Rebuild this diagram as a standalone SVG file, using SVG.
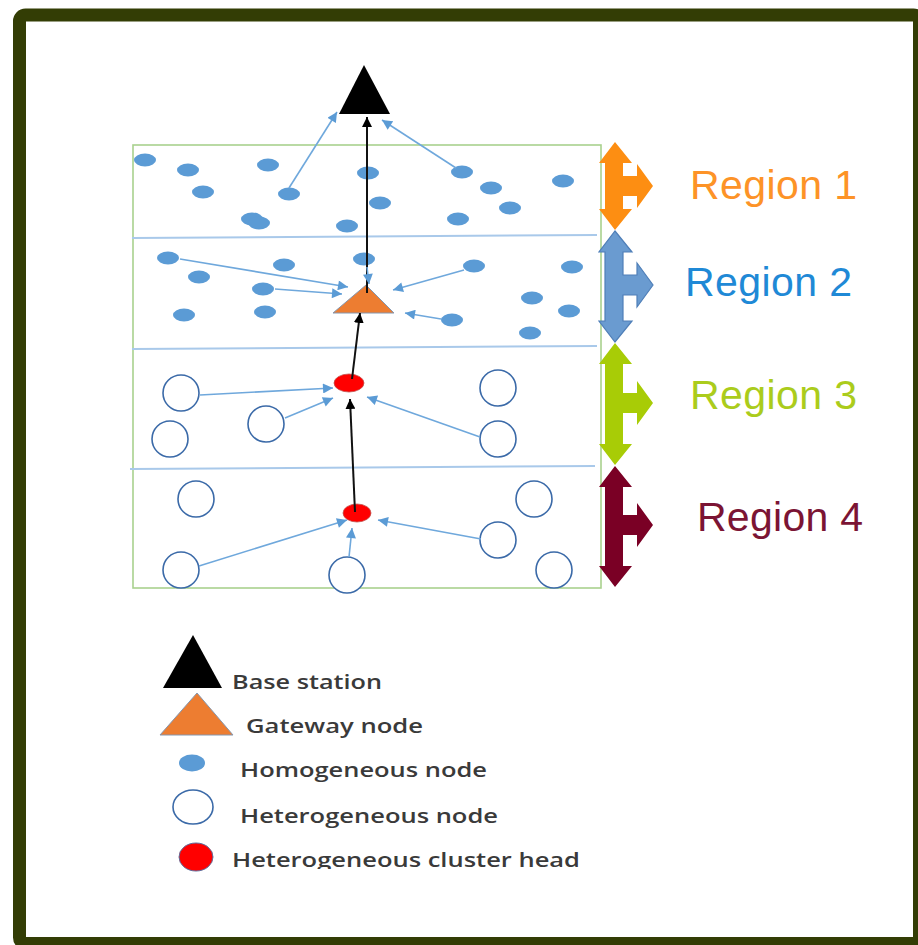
<svg xmlns="http://www.w3.org/2000/svg" width="918" height="945" viewBox="0 0 918 945">
<style>
.hom{fill:#5b9bd5;}
.het{fill:#fff;stroke:#3b6aa8;stroke-width:1.6;}
.ch{fill:#ff0000;stroke:#c0504d;stroke-width:0.8;}
.blue{stroke:#6fa8dc;stroke-width:1.6;fill:none;marker-end:url(#bh);}
.blk{stroke:#111;stroke-width:2;fill:none;marker-end:url(#kh);}
.div{stroke:#a9c9ea;stroke-width:2;fill:none;}
.rl{font-family:"Liberation Sans",Arial,sans-serif;font-size:41px;}
.lg{font-family:"Open Sans","DejaVu Sans",sans-serif;font-size:19px;fill:#3a3a3a;font-weight:600;}
</style>
<defs>
<marker id="bh" viewBox="0 0 10 10" refX="10" refY="5" markerWidth="12" markerHeight="10" markerUnits="userSpaceOnUse" orient="auto"><path d="M0,0 L10,5 L0,10 Z" fill="#5b9bd5"/></marker>
<marker id="kh" viewBox="0 0 10 10" refX="10" refY="5" markerWidth="10" markerHeight="10" markerUnits="userSpaceOnUse" orient="auto"><path d="M0,0 L10,5 L0,10 Z" fill="#000"/></marker>
<clipPath id="clipLast"><rect x="0" y="840" width="918" height="29"/></clipPath>
</defs>
<rect x="0" y="0" width="918" height="945" fill="#fff"/>
<rect id="frame" x="19.5" y="15" width="900" height="928.5" rx="6" fill="#fff" stroke="#333d05" stroke-width="13"/>

<g id="field">
<rect x="133" y="145" width="468" height="443" fill="none" stroke="#a9d18e" stroke-width="1.6"/>
<path class="div" d="M132,238 L597,235"/>
<path class="div" d="M132,349 L597,346"/>
<path class="div" d="M130,469 L595,466"/>
</g>

<g id="base-station"><polygon points="364,65 390,114 339,114" fill="#000"/></g>
<g id="gateway"><polygon points="366,285 394,313 333,313" fill="#ed7d31" stroke="#8497b0" stroke-width="1"/></g>

<g id="homogeneous-nodes">
<ellipse class="hom" cx="145" cy="160" rx="11" ry="6.5"/>
<ellipse class="hom" cx="188" cy="170" rx="11" ry="6.5"/>
<ellipse class="hom" cx="268" cy="165" rx="11" ry="6.5"/>
<ellipse class="hom" cx="368" cy="173" rx="11" ry="6.5"/>
<ellipse class="hom" cx="462" cy="172" rx="11" ry="6.5"/>
<ellipse class="hom" cx="491" cy="188" rx="11" ry="6.5"/>
<ellipse class="hom" cx="563" cy="181" rx="11" ry="6.5"/>
<ellipse class="hom" cx="203" cy="192" rx="11" ry="6.5"/>
<ellipse class="hom" cx="289" cy="194" rx="11" ry="6.5"/>
<ellipse class="hom" cx="380" cy="203" rx="11" ry="6.5"/>
<ellipse class="hom" cx="510" cy="208" rx="11" ry="6.5"/>
<ellipse class="hom" cx="252" cy="219" rx="11" ry="6.5"/>
<ellipse class="hom" cx="259" cy="223" rx="11" ry="6.5"/>
<ellipse class="hom" cx="347" cy="226" rx="11" ry="6.5"/>
<ellipse class="hom" cx="458" cy="219" rx="11" ry="6.5"/>
<ellipse class="hom" cx="168" cy="258" rx="11" ry="6.5"/>
<ellipse class="hom" cx="284" cy="265" rx="11" ry="6.5"/>
<ellipse class="hom" cx="364" cy="259" rx="11" ry="6.5"/>
<ellipse class="hom" cx="474" cy="266" rx="11" ry="6.5"/>
<ellipse class="hom" cx="572" cy="267" rx="11" ry="6.5"/>
<ellipse class="hom" cx="199" cy="277" rx="11" ry="6.5"/>
<ellipse class="hom" cx="263" cy="289" rx="11" ry="6.5"/>
<ellipse class="hom" cx="532" cy="298" rx="11" ry="6.5"/>
<ellipse class="hom" cx="184" cy="315" rx="11" ry="6.5"/>
<ellipse class="hom" cx="265" cy="312" rx="11" ry="6.5"/>
<ellipse class="hom" cx="569" cy="311" rx="11" ry="6.5"/>
<ellipse class="hom" cx="452" cy="320" rx="11" ry="6.5"/>
<ellipse class="hom" cx="530" cy="333" rx="11" ry="6.5"/>
</g>

<g id="heterogeneous-nodes">
<circle class="het" cx="181" cy="393" r="18"/>
<circle class="het" cx="266" cy="424" r="18"/>
<circle class="het" cx="170" cy="439" r="18"/>
<circle class="het" cx="498" cy="388" r="18"/>
<circle class="het" cx="498" cy="439" r="18"/>
<circle class="het" cx="196" cy="499" r="18"/>
<circle class="het" cx="534" cy="499" r="18"/>
<circle class="het" cx="498" cy="540" r="18"/>
<circle class="het" cx="181" cy="570" r="18"/>
<circle class="het" cx="347" cy="575" r="18"/>
<circle class="het" cx="554" cy="570" r="18"/>
</g>

<g id="cluster-head-1"><ellipse class="ch" cx="349" cy="383" rx="15" ry="9"/></g>
<g id="cluster-head-2"><ellipse class="ch" cx="357" cy="513" rx="14" ry="9"/></g>

<g id="connectors">
<path class="blue" d="M289,188 L337,112"/>
<path class="blue" d="M456,168 L382,120"/>
<path class="blk" d="M367,293 L367,117"/>
<path class="blue" d="M180,259 L348,287"/>
<path class="blue" d="M275,289 L342,294"/>
<path class="blue" d="M367,267 L369,284"/>
<path class="blue" d="M464,270 L393,290"/>
<path class="blue" d="M441,319 L405,313"/>
<path class="blk" d="M352,379 L360,313"/>
<path class="blue" d="M200,395 L333,388"/>
<path class="blue" d="M285,418 L333,398"/>
<path class="blue" d="M480,437 L367,397"/>
<path class="blk" d="M355,512 L350,399"/>
<path class="blue" d="M199,566 L347,520"/>
<path class="blue" d="M349,557 L352,528"/>
<path class="blue" d="M481,539 L378,520"/>
</g>

<g id="region-1">
<path d="M615,142 L632,163 L623,163 L623,176 L637,176 L637,164 L653,186 L637,208 L637,196 L623,196 L623,209 L632,209 L615,230 L599,209 L605,209 L605,163 L599,163 Z" fill="#fd8e12"/>
<text class="rl" x="690" y="199" fill="#fd9327" textLength="167">Region 1</text>
</g>
<g id="region-2">
<path d="M615,231 L632,252 L623,252 L623,275 L637,275 L637,263 L653,285 L637,307 L637,295 L623,295 L623,321 L632,321 L615,342 L599,321 L605,321 L605,252 L599,252 Z" fill="#6a9bd0" stroke="#4f7fb8" stroke-width="1.2"/>
<text class="rl" x="685" y="296" fill="#1f89d6" textLength="167">Region 2</text>
</g>
<g id="region-3">
<path d="M615,343 L632,364 L623,364 L623,393 L637,393 L637,381 L653,403 L637,425 L637,413 L623,413 L623,444 L632,444 L615,465 L599,444 L605,444 L605,364 L599,364 Z" fill="#a8cc06"/>
<text class="rl" x="690" y="409" fill="#abcc1c" textLength="167">Region 3</text>
</g>
<g id="region-4">
<path d="M615,466 L632,487 L623,487 L623,515 L637,515 L637,503 L653,525 L637,547 L637,535 L623,535 L623,566 L632,566 L615,587 L599,566 L605,566 L605,487 L599,487 Z" fill="#7a0025"/>
<text class="rl" x="697" y="531" fill="#7b1434" textLength="166">Region 4</text>
</g>

<g id="legend">
<polygon points="193,635 222,688 163,688" fill="#000"/>
<text class="lg" x="232" y="689" textLength="150" lengthAdjust="spacingAndGlyphs">Base station</text>
<polygon points="197,693 233,735 160,735" fill="#ed7d31" stroke="#8497b0" stroke-width="1"/>
<text class="lg" x="246" y="733" textLength="177" lengthAdjust="spacingAndGlyphs">Gateway node</text>
<ellipse class="hom" cx="192" cy="763" rx="13" ry="8.5"/>
<text class="lg" x="240" y="777" textLength="247" lengthAdjust="spacingAndGlyphs">Homogeneous node</text>
<ellipse class="het" cx="193" cy="807" rx="20" ry="17"/>
<text class="lg" x="240" y="823" textLength="258" lengthAdjust="spacingAndGlyphs">Heterogeneous node</text>
<ellipse cx="196" cy="857" rx="17" ry="14" fill="#ff0000" stroke="#5a6fa0" stroke-width="1"/>
<text class="lg" x="232" y="867" textLength="348" lengthAdjust="spacingAndGlyphs" clip-path="url(#clipLast)">Heterogeneous cluster head</text>
</g>
</svg>
